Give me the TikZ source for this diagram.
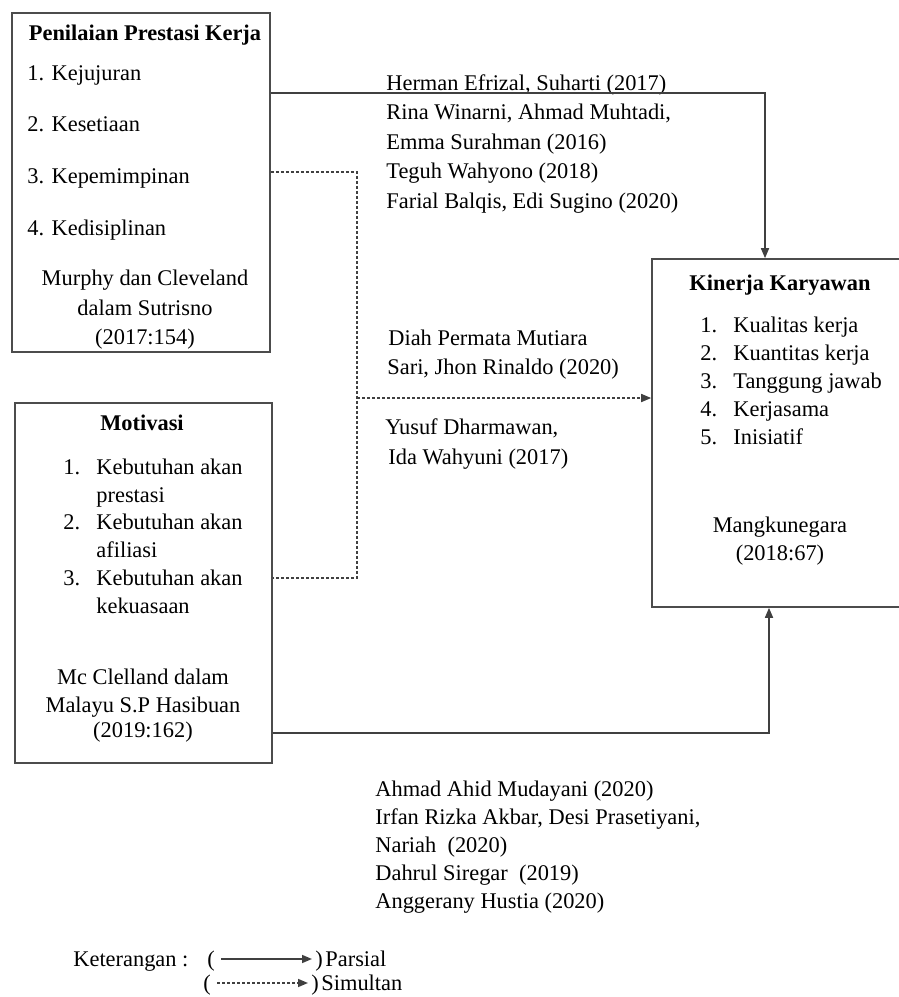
\documentclass[tikz,border=0pt]{standalone}
\usepackage{fontspec}
\setmainfont{Liberation Serif}
\usetikzlibrary{arrows.meta}

\begin{document}
\fontsize{11.2}{14}\selectfont
\begin{tikzpicture}[x=0.5pt, y=-0.5pt, >={Triangle[length=5pt,width=4pt]},
  box/.style={draw=black!70, line width=0.8pt, inner sep=0pt},
  txt/.style={anchor=base west, inner sep=0pt},
  mid/.style={anchor=base, inner sep=0pt},
  parsial/.style={draw=black!75, line width=0.8pt, ->},
  simultan/.style={parsial, dash pattern=on 1.5pt off 1pt}]
  \useasboundingbox (0,0) rectangle (899,997);
  \clip (0,0) rectangle (899,997);

  % Variabel boxes
  \node[box, minimum width=129pt, minimum height=169.5pt] (pk) at (141,182.5) {};
  \node[box, minimum width=128.5pt, minimum height=180pt] (mo) at (143.5,583) {};
  \node[box, minimum width=128pt, minimum height=174pt] (kk) at (780,433) {};

  % Penilaian Prestasi Kerja
  \node[mid, font=\bfseries] (pkT) at (145,40) {Penilaian Prestasi Kerja};
  \foreach \t [count=\i] in {Kejujuran, Kesetiaan, Kepemimpinan, Kedisiplinan}
    \node[txt] (pk\i) at (27, {80+51.7*(\i-1)}) {\i. \t};
  \node[mid] (pkS1) at (145,285) {Murphy dan Cleveland};
  \node[mid] (pkS2) at (145,315) {dalam Sutrisno};
  \node[mid] (pkS3) at (145,344) {(2017:154)};

  % Motivasi
  \node[mid, font=\bfseries] (moT) at (142,430) {Motivasi};
  \foreach \t [count=\i] in {prestasi, afiliasi, kekuasaan} {
    \node[txt] (mo\i) at (63, {474+55.7*(\i-1)}) {\makebox[16.5pt][l]{\i.}Kebutuhan akan};
    \node[txt] (mo\i b) at (96, {502+55.7*(\i-1)}) {\t};
  }
  \node[mid] (moS1) at (143,684) {Mc Clelland dalam};
  \node[mid] (moS2) at (143,712) {Malayu S.P Hasibuan};
  \node[mid] (moS3) at (143,737) {(2019:162)};

  % Kinerja Karyawan
  \node[mid, font=\bfseries] (kkT) at (780,290) {Kinerja Karyawan};
  \foreach \t [count=\i] in {Kualitas kerja, Kuantitas kerja, Tanggung jawab, Kerjasama, Inisiatif}
    \node[txt] (kk\i) at (700, {332+28*(\i-1)}) {\makebox[16.5pt][l]{\i.}\t};
  \node[mid] (kkS1) at (780,532) {Mangkunegara};
  \node[mid] (kkS2) at (780,560) {(2018:67)};

  % Penelitian terdahulu
  \foreach \t [count=\i] in {{Herman Efrizal, Suharti (2017)}, {Rina Winarni, Ahmad Muhtadi,},
      {Emma Surahman (2016)}, {Teguh Wahyono (2018)}, {Farial Balqis, Edi Sugino (2020)}}
    \node[txt] (rA\i) at (386, {90+29.5*(\i-1)}) {\t};
  \node[txt] (rB1) at (388,345) {Diah Permata Mutiara};
  \node[txt] (rB2) at (387,374) {Sari, Jhon Rinaldo (2020)};
  \node[txt] (rC1) at (385,434) {Yusuf Dharmawan,};
  \node[txt] (rC2) at (388,464) {Ida Wahyuni (2017)};
  \foreach \t [count=\i] in {{Ahmad Ahid Mudayani (2020)}, {Irfan Rizka Akbar, Desi Prasetiyani,},
      {Nariah~ (2020)}, {Dahrul Siregar~ (2019)}, {Anggerany Hustia (2020)}}
    \node[txt] (rD\i) at (375, {796+28*(\i-1)}) {\t};

  % Hubungan
  \coordinate (h1) at (765,93);
  \coordinate (h2) at (357,398);
  \coordinate (h3) at (769,733);
  \draw[parsial] (pk.east |- h1) -| (kk.north -| h1);
  \draw[simultan, -] (pk.east |- 0,172) -| (h2) |- (mo.east |- 0,578);
  \draw[simultan] (h2) -- (kk.west |- h2);
  \draw[parsial] (mo.east |- h3) -| (kk.south -| h3);

  % Keterangan
  \node[txt] (ket) at (73,966) {Keterangan :};
  \node[txt] (lp1) at (207,966) {(};
  \node[txt] (rp1) at (315,966) {)};
  \node[txt] (par) at (325,966) {Parsial};
  \node[txt] (lp2) at (203,990) {(};
  \node[txt] (rp2) at (311,990) {)};
  \node[txt] (sim) at (321,990) {Simultan};
  \draw[parsial] ([xshift=3pt,yshift=3.5pt]lp1.base east) -- ([xshift=-1.5pt,yshift=3.5pt]rp1.base west);
  \draw[simultan] ([xshift=3pt,yshift=3.5pt]lp2.base east) -- ([xshift=-1.5pt,yshift=3.5pt]rp2.base west);
\end{tikzpicture}
\end{document}
